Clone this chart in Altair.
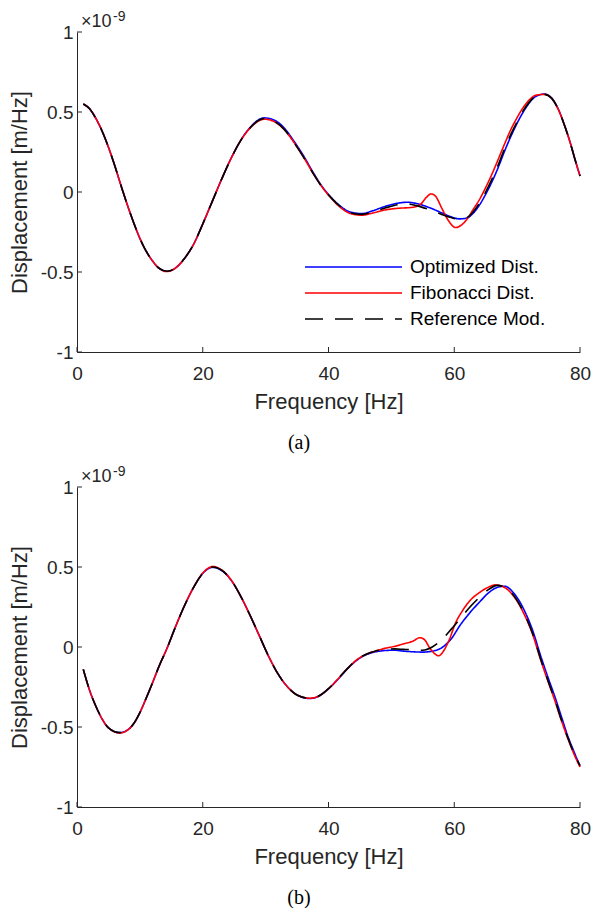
import altair as alt
import pandas as pd

SERIES = ["Optimized Dist.", "Fibonacci Dist.", "Reference Mod."]
COLORS = ["#0000ff", "#ff0000", "#000000"]
DASHES = [[1, 0], [1, 0], [18, 12]]
X_TICKS = [0, 20, 40, 60, 80]
Y_TICKS = [-1, -0.5, 0, 0.5, 1]
CAPTIONS = ["(a)", "(b)"]

# ---------------- panel (a) ----------------
a_ref_f = [1, 2, 3, 4, 5, 6, 7, 8, 9, 10, 11, 12, 13, 14.3, 15.5, 17, 18.5, 20, 21.5, 23,
           24.5, 26, 27.5, 29.8, 31.5, 33, 34.5, 36, 37.5, 39, 40.5, 42, 43.5, 45.3, 47, 49,
           51, 52.6, 54, 56, 58, 59.5, 60.8, 62, 63, 64, 65, 66, 67, 68, 69, 70, 71, 72, 73,
           74.3, 75.5, 76.5, 77.5, 78.5, 79.3, 80]
a_ref_v = [0.55, 0.52, 0.46, 0.38, 0.28, 0.165, 0.04, -0.08, -0.19, -0.29, -0.37, -0.43,
           -0.475, -0.495, -0.48, -0.42, -0.33, -0.2, -0.06, 0.08, 0.21, 0.32, 0.4, 0.46,
           0.44, 0.39, 0.31, 0.22, 0.12, 0.03, -0.04, -0.095, -0.13, -0.14, -0.125, -0.1,
           -0.08, -0.075, -0.085, -0.11, -0.14, -0.16, -0.17, -0.16, -0.125, -0.07, 0.0,
           0.08, 0.17, 0.27, 0.36, 0.44, 0.51, 0.565, 0.6, 0.61, 0.585, 0.52, 0.42, 0.3,
           0.19, 0.1]

a_opt_f = a_ref_f
a_opt_v = [0.55, 0.52, 0.46, 0.38, 0.28, 0.165, 0.04, -0.08, -0.19, -0.29, -0.37, -0.43,
           -0.475, -0.495, -0.48, -0.42, -0.33, -0.2, -0.06, 0.08, 0.21, 0.32, 0.402, 0.463,
           0.447, 0.398, 0.318, 0.228, 0.126, 0.034, -0.037, -0.092, -0.126, -0.135, -0.118,
           -0.09, -0.07, -0.064, -0.072, -0.097, -0.13, -0.155, -0.168, -0.163, -0.133,
           -0.082, -0.014, 0.064, 0.154, 0.255, 0.347, 0.43, 0.502, 0.56, 0.598, 0.612,
           0.587, 0.522, 0.422, 0.302, 0.192, 0.1]

a_fib_f = [1, 2, 3, 4, 5, 6, 7, 8, 9, 10, 11, 12, 13, 14.3, 15.5, 17, 18.5, 20, 21.5, 23,
           24.5, 26, 27.5, 29.8, 31.5, 33, 34.5, 36, 37.5, 39, 40.5, 42, 43.5, 45.3, 47, 49,
           51, 53.3, 54.6, 55.6, 56.3, 57.0, 58.0, 59.1, 60.2, 61.2, 62.2, 63, 64, 65, 66, 67,
           68, 69, 70, 71, 72, 73, 74.3, 75.5, 76.5, 77.5, 78.5, 79.3, 80]
a_fib_v = [0.55, 0.52, 0.46, 0.38, 0.28, 0.165, 0.04, -0.08, -0.19, -0.29, -0.37, -0.43,
           -0.475, -0.497, -0.48, -0.42, -0.33, -0.2, -0.06, 0.08, 0.21, 0.32, 0.398, 0.455,
           0.437, 0.388, 0.31, 0.22, 0.12, 0.03, -0.042, -0.1, -0.135, -0.145, -0.132,
           -0.112, -0.102, -0.096, -0.078, -0.032, -0.012, -0.025, -0.1, -0.18, -0.222,
           -0.205, -0.16, -0.11, -0.048, 0.028, 0.112, 0.205, 0.3, 0.39, 0.465, 0.53, 0.578,
           0.605, 0.61, 0.585, 0.52, 0.42, 0.3, 0.19, 0.1]

# ---------------- panel (b) ----------------
b_ref_f = [1, 2, 3, 4, 5, 6.8, 8, 9, 10, 11, 12, 13, 14.4, 15.5, 17, 18.5, 20, 21.6, 23,
           24.5, 26, 27.5, 29, 30.5, 32, 33.5, 35, 37, 38.5, 40, 41.5, 43, 44.5, 46, 47.5,
           49, 50.5, 52, 53.5, 55, 56.5, 58, 59.5, 61, 62.5, 64, 65.5, 66.8, 68, 69.5, 71,
           72.5, 73.7, 75, 76, 77, 78, 79, 80]
b_ref_v = [-0.14, -0.27, -0.37, -0.45, -0.505, -0.535, -0.52, -0.48, -0.41, -0.32, -0.225,
           -0.125, 0.0, 0.11, 0.25, 0.37, 0.46, 0.5, 0.48, 0.42, 0.32, 0.2, 0.07, -0.06,
           -0.17, -0.25, -0.3, -0.32, -0.305, -0.26, -0.2, -0.135, -0.08, -0.045, -0.025,
           -0.015, -0.012, -0.015, -0.018, -0.02, 0.0, 0.045, 0.11, 0.18, 0.25, 0.31, 0.36,
           0.385, 0.375, 0.32, 0.22, 0.08, -0.07, -0.22, -0.33, -0.45, -0.56, -0.66, -0.74]

b_opt_f = b_ref_f
b_opt_v = [-0.14, -0.27, -0.37, -0.45, -0.505, -0.535, -0.52, -0.48, -0.41, -0.32, -0.225,
           -0.125, 0.0, 0.11, 0.25, 0.37, 0.46, 0.498, 0.478, 0.418, 0.32, 0.2, 0.07, -0.06,
           -0.17, -0.25, -0.3, -0.322, -0.307, -0.262, -0.202, -0.137, -0.083, -0.048,
           -0.03, -0.022, -0.02, -0.026, -0.03, -0.032, -0.026, -0.005, 0.05, 0.14, 0.215,
           0.28, 0.34, 0.372, 0.38, 0.335, 0.24, 0.1, -0.05, -0.2, -0.31, -0.43, -0.55,
           -0.65, -0.745]

b_fib_f = [1, 2, 3, 4, 5, 6.8, 8, 9, 10, 11, 12, 13, 14.4, 15.5, 17, 18.5, 20, 21.6, 23,
           24.5, 26, 27.5, 29, 30.5, 32, 33.5, 35, 37, 38.5, 40, 41.5, 43, 44.5, 46, 47.5,
           49, 50.5, 52, 53.5, 54.5, 55.3, 56.0, 56.7, 57.5, 58.3, 59.2, 60.2, 61.2, 62.5,
           64, 65.5, 66.5, 68, 69.5, 71, 72.5, 73.7, 75, 76, 77, 78, 79, 80]
b_fib_v = [-0.14, -0.27, -0.37, -0.45, -0.505, -0.537, -0.52, -0.48, -0.41, -0.32, -0.225,
           -0.125, 0.0, 0.11, 0.25, 0.37, 0.462, 0.503, 0.482, 0.42, 0.32, 0.2, 0.07, -0.06,
           -0.17, -0.25, -0.3, -0.32, -0.305, -0.26, -0.2, -0.135, -0.08, -0.045, -0.025,
           -0.008, 0.004, 0.02, 0.038, 0.058, 0.045, 0.0, -0.035, -0.055, -0.025, 0.045,
           0.15, 0.22, 0.29, 0.34, 0.375, 0.388, 0.372, 0.315, 0.215, 0.075, -0.075, -0.225,
           -0.335, -0.455, -0.565, -0.665, -0.75]

FONT = "Liberation Sans"
AX = "#262626"
W, H = 503, 320


def panel(ref_f, ref_v, opt_f, opt_v, fib_f, fib_v, caption):
    df = pd.concat([
        pd.DataFrame({"f": opt_f, "v": opt_v, "series": SERIES[0]}),
        pd.DataFrame({"f": fib_f, "v": fib_v, "series": SERIES[1]}),
        pd.DataFrame({"f": ref_f, "v": ref_v, "series": SERIES[2]}),
    ], ignore_index=True)

    xaxis = alt.Axis(values=X_TICKS, ticks=False, tickSize=0, grid=False,
                     labelFont=FONT, labelFontSize=19, labelColor=AX,
                     labelBaseline="alphabetic", labelPadding=27, labelFlush=False,
                     domainColor=AX, domainWidth=1,
                     title="Frequency [Hz]", titleFont=FONT, titleFontSize=22,
                     titleFontWeight="normal", titleColor=AX, titleX=W / 2, titleY=56,
                     titleBaseline="alphabetic")
    yaxis = alt.Axis(values=Y_TICKS, labelExpr="'' + datum.value", ticks=False,
                     tickSize=0, grid=False, labelFont=FONT, labelFontSize=19,
                     labelColor=AX, labelPadding=4, domainColor=AX, domainWidth=1,
                     title="Displacement [m/Hz]", titleFont=FONT, titleFontSize=22,
                     titleFontWeight="normal", titleColor=AX, titleX=-51, titleY=H / 2,
                     titleAngle=-90, titleBaseline="alphabetic", titleAlign="center")
    legend = alt.Legend(title=None, orient="none", legendX=227, legendY=223,
                        symbolType="stroke", symbolSize=9409, symbolStrokeWidth=1.6,
                        labelFont=FONT, labelFontSize=19, labelColor="#000000",
                        clipHeight=24, rowPadding=2, labelOffset=7, padding=0,
                        symbolOffset=0)
    x = alt.X("f:Q", scale=alt.Scale(domain=[0, 80], nice=False, zero=False), axis=xaxis)
    y = alt.Y("v:Q", scale=alt.Scale(domain=[-1, 1], nice=False, zero=False), axis=yaxis)
    color = alt.Color("series:N", scale=alt.Scale(domain=SERIES, range=COLORS), legend=legend)
    dash = alt.StrokeDash("series:N", scale=alt.Scale(domain=SERIES, range=DASHES), legend=legend)

    layers = []
    for s in SERIES:
        layers.append(
            alt.Chart(df).transform_filter(alt.datum.series == s)
            .mark_line(strokeWidth=1.6, interpolate="monotone")
            .encode(x=x, y=y, color=color, strokeDash=dash)
        )

    xt = alt.Chart(pd.DataFrame({"f": X_TICKS})).mark_rule(color=AX, strokeWidth=1).encode(
        x="f:Q", y=alt.value(H), y2=alt.value(H - 5))
    yt = alt.Chart(pd.DataFrame({"v": Y_TICKS})).mark_rule(color=AX, strokeWidth=1).encode(
        y="v:Q", x=alt.value(0), x2=alt.value(5))

    exp1 = alt.Chart(pd.DataFrame({"t": ["×10"]})).mark_text(
        font=FONT, fontSize=18, color=AX, align="left", baseline="alphabetic").encode(
        text="t:N", x=alt.value(4), y=alt.value(-5))
    exp2 = alt.Chart(pd.DataFrame({"t": ["-9"]})).mark_text(
        font=FONT, fontSize=14, color=AX, align="left", baseline="alphabetic").encode(
        text="t:N", x=alt.value(36), y=alt.value(-11))
    cap = alt.Chart(pd.DataFrame({"t": [caption]})).mark_text(
        font="Liberation Serif", fontSize=20, color="#000000", align="center",
        baseline="middle").encode(text="t:N", x=alt.value(222), y=alt.value(411))

    return alt.layer(*layers, xt, yt, exp1, exp2, cap).properties(width=W, height=H)


top = panel(a_ref_f, a_ref_v, a_opt_f, a_opt_v, a_fib_f, a_fib_v, CAPTIONS[0])
bottom = panel(b_ref_f, b_ref_v, b_opt_f, b_opt_v, b_fib_f, b_fib_v, CAPTIONS[1])

chart = alt.vconcat(top, bottom, spacing=12).properties(
    padding={"left": 0, "top": 2, "right": 0, "bottom": 0}
).configure_view(stroke=None)

chart.save("out.html", embed_options={"renderer": "svg", "actions": False})
